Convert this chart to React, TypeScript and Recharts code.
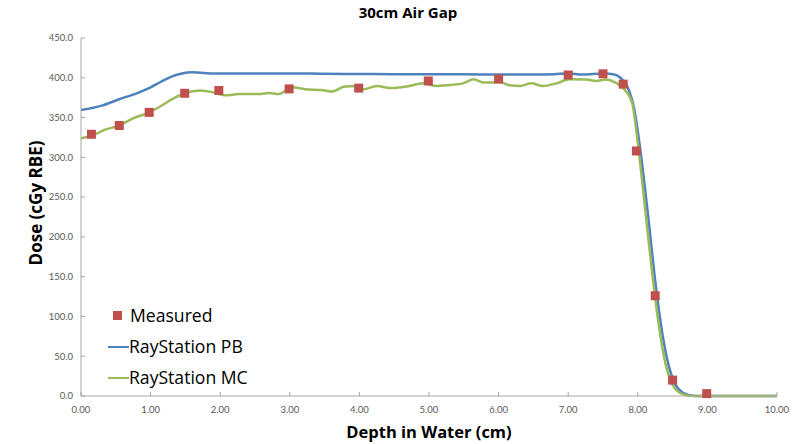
import { ComposedChart, Label, Legend, Line, Scatter, XAxis, YAxis } from 'recharts'

const measuredDepth = [0.15, 0.55, 0.98, 1.49, 1.98, 2.99, 3.99, 4.99, 6.0, 7.0, 7.5, 7.79, 7.98, 8.25, 8.5, 8.99]
const measuredDose = [329, 340, 356.5, 380.5, 384, 386, 387, 396, 398.5, 403.5, 405, 392, 308, 126, 20, 3]

const pbDepth = [
  0, 0.3, 0.55, 0.8, 1.0, 1.15, 1.3, 1.45, 1.6, 1.8, 2.0, 2.5, 3.0, 3.5, 4.0, 4.5, 5.0, 5.5, 6.0, 6.5, 6.8, 7.0,
  7.2, 7.5, 7.65, 7.75, 7.85, 7.95, 8.05, 8.15, 8.25, 8.35, 8.45, 8.55, 8.65, 8.75, 8.85, 10,
]
const pbDose = [
  359.5, 365, 373, 380.5, 388, 395, 401.5, 405.5, 406.8, 405.8, 405.3, 405.3, 405.5, 405, 404.8, 404.5, 404.5,
  404.5, 404, 404, 404.5, 405.5, 404.2, 405.5, 404.5, 400, 389, 360, 300, 225, 145, 80, 36, 13, 4, 1, 0, 0,
]

const mcDepth = [
  0, 0.18, 0.32, 0.55, 0.75, 0.98, 1.13, 1.33, 1.49, 1.71, 1.85, 2.08, 2.27, 2.56, 2.7, 2.84, 3.03, 3.22, 3.46,
  3.6, 3.79, 3.97, 4.06, 4.25, 4.44, 4.68, 4.92, 5.11, 5.3, 5.49, 5.64, 5.78, 6.02, 6.16, 6.31, 6.47, 6.64, 6.83,
  7.02, 7.26, 7.4, 7.54, 7.68, 7.8, 7.92, 8.0, 8.1, 8.2, 8.3, 8.4, 8.5, 8.6, 8.7, 8.8, 10,
]
const mcDose = [
  324, 328, 334, 340, 349, 356.6, 363.6, 374, 380.5, 384, 382.6, 378, 379.6, 379.6, 381, 379.6, 388, 385.6, 384.6,
  382.6, 389, 389.6, 385.6, 389.6, 387, 389, 393, 389.6, 391, 393, 398, 394, 394.3, 390.5, 389.6, 393, 389.6, 393,
  398, 397.7, 396, 397.7, 394, 386, 368, 318, 240, 160, 90, 40, 14, 4, 1, 0, 0,
]

const xTicks = [0, 1, 2, 3, 4, 5, 6, 7, 8, 9, 10]
const yTicks = [0, 50, 100, 150, 200, 250, 300, 350, 400, 450]

const toPoints = (xs: number[], ys: number[]) => xs.map((depth, i) => ({ depth, dose: ys[i] }))

const measured = toPoints(measuredDepth, measuredDose)
const pb = toPoints(pbDepth, pbDose)
const mc = toPoints(mcDepth, mcDose)

const FONT = '"Open Sans", Lato, sans-serif'
const TICK_FONT = 'Lato, "Open Sans", sans-serif'
const RED = '#c0504d'
const BLUE = '#4f81bd'
const GREEN = '#9bbb59'
const AXIS = '#a6a6a6'

const SquareDot = (props: any) => {
  const { cx, cy } = props
  return <rect x={cx - 4.5} y={cy - 4.5} width={9} height={9} fill={RED} />
}

const LegendBox = () => (
  <div style={{ fontFamily: FONT, fontSize: 17.6, color: '#000', lineHeight: '31px' }}>
    <div style={{ display: 'flex', alignItems: 'center' }}>
      <span style={{ width: 9, height: 9, background: RED, margin: '0 8px 0 5px' }} />
      Measured
    </div>
    <div style={{ display: 'flex', alignItems: 'center' }}>
      <span style={{ width: 21, height: 2, background: BLUE }} />
      RayStation PB
    </div>
    <div style={{ display: 'flex', alignItems: 'center' }}>
      <span style={{ width: 21, height: 2, background: GREEN }} />
      RayStation MC
    </div>
  </div>
)

export default function App() {
  return (
    <div style={{ position: 'absolute', left: 0, top: 0, width: 810, height: 444, background: '#fff' }}>
      <div
        style={{
          position: 'absolute',
          top: 2,
          left: 3,
          width: 810,
          textAlign: 'center',
          fontFamily: FONT,
          fontWeight: 700,
          fontSize: 15,
          color: '#000',
        }}
      >
        30cm Air Gap
      </div>
      <ComposedChart width={810} height={444} margin={{ top: 38, right: 33, bottom: 0, left: 21 }}>
        <XAxis
          type="number"
          dataKey="depth"
          domain={[0, 10]}
          ticks={xTicks}
          allowDataOverflow
          height={48}
          stroke={AXIS}
          tickSize={-4}
          tickMargin={14}
          tick={{ fontSize: 9.5, fill: '#595959', fontFamily: TICK_FONT }}
          tickFormatter={(v: number) => v.toFixed(2)}
        >
          <Label
            content={({ viewBox }: any) => (
              <text
                x={viewBox.x + viewBox.width / 2}
                y={viewBox.y + 42}
                textAnchor="middle"
                fontFamily={FONT}
                fontWeight={700}
                fontSize={16.5}
                fill="#000"
              >
                Depth in Water (cm)
              </text>
            )}
          />
        </XAxis>
        <YAxis
          type="number"
          dataKey="dose"
          domain={[0, 450]}
          ticks={yTicks}
          width={60}
          stroke={AXIS}
          tickSize={-4}
          tickMargin={12}
          tick={{ fontSize: 9.5, fill: '#595959', fontFamily: TICK_FONT }}
          tickFormatter={(v: number) => v.toFixed(1)}
        >
          <Label
            content={() => {
              const cx = 35
              const cy = 203
              return (
                <text
                  x={cx}
                  y={cy}
                  transform={`rotate(-90 ${cx} ${cy})`}
                  textAnchor="middle"
                  dominantBaseline="central"
                  fontFamily={FONT}
                  fontWeight={700}
                  fontSize={17}
                  fill="#000"
                >
                  Dose (cGy RBE)
                </text>
              )
            }}
          />
        </YAxis>
        <Legend
          layout="vertical"
          align="center"
          verticalAlign="middle"
          content={<LegendBox />}
          wrapperStyle={{ left: 108, top: 300, width: 'auto', height: 'auto' }}
        />
        <Scatter name="Measured" data={measured} fill={RED} shape={SquareDot} isAnimationActive={false} />
        <Line
          name="RayStation PB"
          data={pb}
          dataKey="dose"
          type="monotone"
          stroke={BLUE}
          strokeWidth={2.5}
          dot={false}
          isAnimationActive={false}
        />
        <Line
          name="RayStation MC"
          data={mc}
          dataKey="dose"
          type="monotone"
          stroke={GREEN}
          strokeWidth={2.5}
          dot={false}
          isAnimationActive={false}
        />
      </ComposedChart>
    </div>
  )
}
